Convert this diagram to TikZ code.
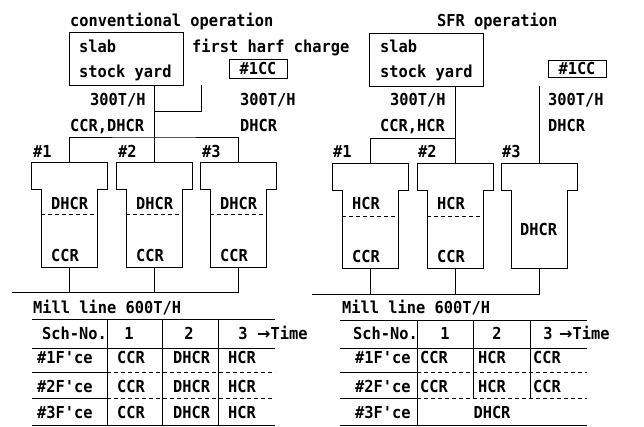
\documentclass[tikz,border=0pt]{standalone}
\usepackage{fontspec}
\newfontfamily\monob[FakeStretch=0.93]{DejaVu Sans Mono}
\newfontfamily\arrf{DejaVu Sans}
\begin{document}
\begin{tikzpicture}[x=1pt,y=-1pt,
  ln/.style={line width=1pt},
  dsh/.style={line width=1pt, dash pattern=on 4pt off 3pt},
  txt/.style={font=\monob\bfseries\fontsize{16.5}{18}\selectfont, inner sep=0pt, anchor=base west},
  txtc/.style={txt, anchor=base},
  boxn/.style={draw, line width=1pt, inner sep=0pt, font=\monob\bfseries\fontsize{16.5}{18}\selectfont}]
\useasboundingbox (0,0) rectangle (644,426);
\newcommand\furn[3]{% name, cx, top y
  \draw[ln] (#2-38,#3) -- ++(76,0) -- ++(0,27) -- ++(-10,0) -- ++(0,78) -- ++(-56,0) -- ++(0,-78) -- ++(-10,0) -- cycle;
  \coordinate (#1t) at (#2,#3);
  \coordinate (#1b) at (#2,#3+105);}

% ===== left: conventional operation =====
\node[txt] (titleL) at (70,26) {conventional operation};
\node[boxn, minimum width=114pt, minimum height=53pt] (slabL) at (126,58.5) {};
\node[txt] (slabLa) at (79,52) {slab};
\node[txt] (slabLb) at (79,77) {stock yard};
\node[txt] (halfL) at (192,52) {first harf charge};
\node[boxn, minimum width=58pt, minimum height=19pt] (ccL) at (258,68.5) {\#1CC};
\node[txt] (rL1) at (90,105) {300T/H};
\node[txt] (rL2) at (70,131) {CCR,DHCR};
\node[txt] (rL3) at (240,105) {300T/H};
\node[txt] (rL4) at (240,131) {DHCR};
\node[txt] (nL1) at (33,157) {\#1};
\node[txt] (nL2) at (118,157) {\#2};
\node[txt] (nL3) at (202,157) {\#3};

\furn{f1L}{69}{162}
\furn{f2L}{154}{162}
\furn{f3L}{238}{162}
\foreach \c in {69,154,238}{
  \draw[dsh] (\c-28,214) -- (\c+28,214);
  \node[txt] at (\c-18,209) {DHCR};
  \node[txt] at (\c-18,261) {CCR};}

\coordinate (jL) at (154,137);
\coordinate (hL) at (201,85);
\coordinate (hLk) at (154,111);
\draw[ln] (slabL.south -| jL) -- (jL);
\draw[ln] (hL) |- (hLk);
\draw[ln] (f1Lt) |- (jL) -| (f3Lt);
\draw[ln] (jL) -- (f2Lt);
\coordinate (millL) at (12,292);
\draw[ln] (millL) -| (f3Lb);
\draw[ln] (f1Lb) -- (f1Lb |- millL);
\draw[ln] (f2Lb) -- (f2Lb |- millL);
\node[txt] (millTL) at (33,313) {Mill line 600T/H};

% table left
\draw[ln] (32,319) -- (275,319);
\draw[ln] (32,348) -- (275,348);
\draw[ln] (32,372) -- (107,372);
\draw[dsh] (107,372) -- (275,372);
\draw[ln] (32,398) -- (107,398);
\draw[dsh] (107,398) -- (275,398);
\draw[ln] (32,425) -- (275,425);
\foreach \c in {107,162,218} \draw[ln] (\c,319) -- (\c,425);
\node[txt] at (42,339) {Sch-No.};
\node[txtc] at (129,339) {1};
\node[txtc] at (189,339) {2};
\node[txtc] at (243,339) {3};
\node[txt] at (257,339) {{\arrf\fontsize{16}{18}\selectfont →}Time};
\foreach \y/\n in {363/1,392/2,418/3}{
  \node[txt] at (37,\y) {\#\n F'ce};
  \node[txt] at (117,\y) {CCR};
  \node[txt] at (173,\y) {DHCR};
  \node[txt] at (228,\y) {HCR};}

% ===== right: SFR operation =====
\node[txt] (titleR) at (437,26) {SFR operation};
\node[boxn, minimum width=114pt, minimum height=53pt] (slabR) at (426,59.5) {};
\node[txt] (slabRa) at (380,52) {slab};
\node[txt] (slabRb) at (380,77) {stock yard};
\node[boxn, minimum width=58pt, minimum height=17pt] (ccR) at (577,68.5) {\#1CC};
\node[txt] (rR1) at (390,105) {300T/H};
\node[txt] (rR2) at (380,131) {CCR,HCR};
\node[txt] (rR3) at (548,105) {300T/H};
\node[txt] (rR4) at (548,131) {DHCR};
\node[txt] (nR1) at (333,157) {\#1};
\node[txt] (nR2) at (418,157) {\#2};
\node[txt] (nR3) at (502,157) {\#3};

\furn{f1R}{370}{163}
\furn{f2R}{455}{163}
\furn{f3R}{539}{163}
\foreach \c in {370,455}{
  \draw[dsh] (\c-28,216) -- (\c+28,216);
  \node[txt] at (\c-18,209) {HCR};
  \node[txt] at (\c-18,262) {CCR};}
\node[txt] at (520,235) {DHCR};

\coordinate (jR) at (455,138);
\coordinate (hR) at (539,86);
\draw[ln] (slabR.south -| jR) -- (f2Rt);
\draw[ln] (jR) -| (f1Rt);
\draw[ln] (hR) -- (f3Rt);
\coordinate (millR) at (312,294);
\draw[ln] (millR) -| (f3Rb);
\draw[ln] (f1Rb) -- (f1Rb |- millR);
\draw[ln] (f2Rb) -- (f2Rb |- millR);
\node[txt] (millTR) at (342,313) {Mill line 600T/H};

% table right
\draw[ln] (340,320) -- (587,320);
\draw[ln] (340,348) -- (587,348);
\draw[ln] (340,372) -- (417,372);
\draw[dsh] (417,372) -- (587,372);
\draw[ln] (340,398) -- (417,398);
\draw[dsh] (417,398) -- (587,398);
\draw[ln] (340,425) -- (587,425);
\draw[ln] (417,320) -- (417,425);
\foreach \c in {473,530} \draw[ln] (\c,320) -- (\c,398);
\node[txt] at (353,339) {Sch-No.};
\node[txtc] at (445,339) {1};
\node[txtc] at (497,339) {2};
\node[txtc] at (548,339) {3};
\node[txt] at (559,339) {{\arrf\fontsize{16}{18}\selectfont →}Time};
\foreach \y/\n in {363/1,392/2}{
  \node[txt] at (355,\y) {\#\n F'ce};
  \node[txt] at (420,\y) {CCR};
  \node[txt] at (478,\y) {HCR};
  \node[txt] at (533,\y) {CCR};}
\node[txt] at (355,418) {\#3F'ce};
\node[txtc] at (492,418) {DHCR};
\end{tikzpicture}
\end{document}
